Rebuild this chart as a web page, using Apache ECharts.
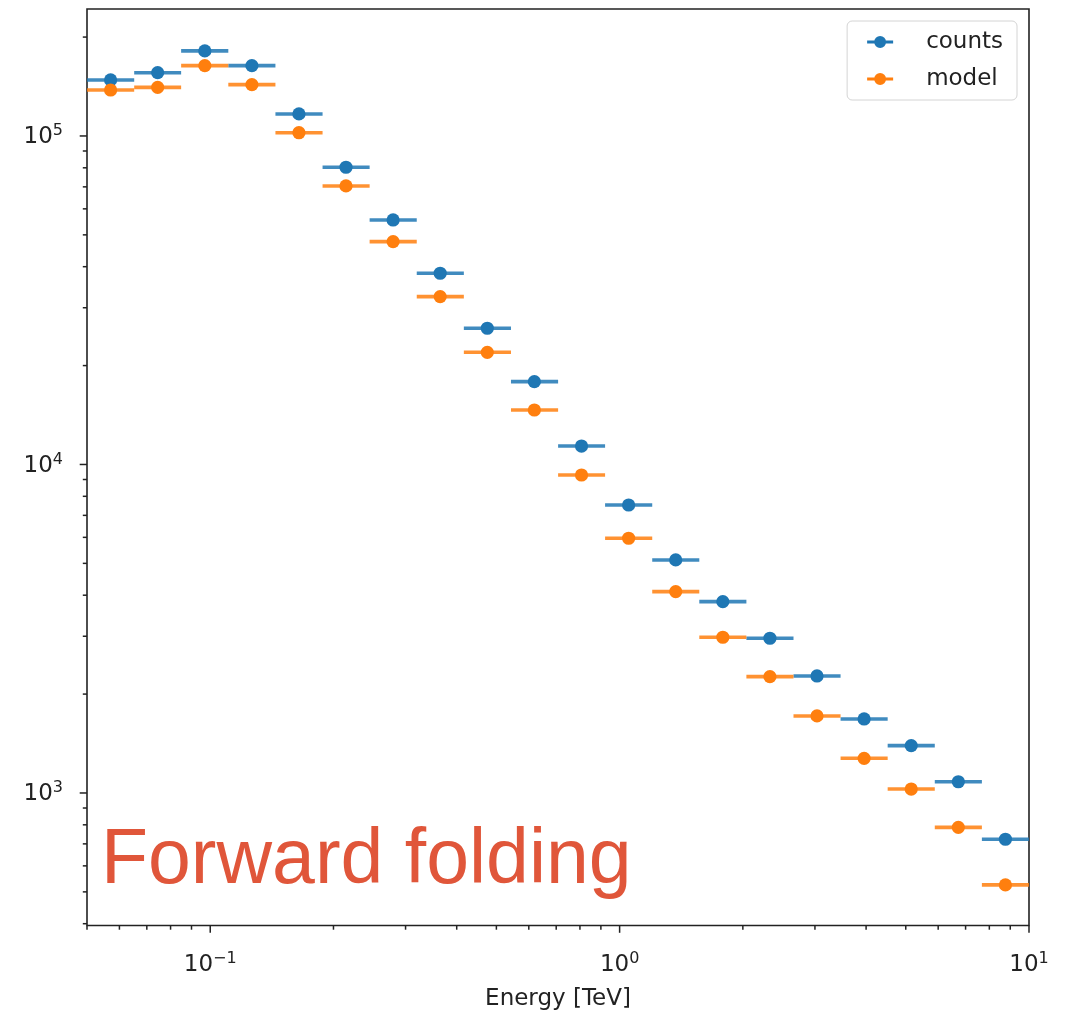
<!DOCTYPE html>
<html><head><meta charset="utf-8">
<script src="https://cdn.jsdelivr.net/npm/echarts@6/dist/echarts.min.js"></script>
<style>html,body{margin:0;padding:0;background:#fff}#c{width:1066px;height:1012px}</style>
</head><body><div id="c"></div>
<script>
// ---- data ----
const ENERGY_CENTER = [0.0571, 0.0744, 0.0970, 0.1264, 0.1647, 0.2146, 0.2797, 0.3645, 0.4751, 0.6191, 0.8071, 1.052, 1.371, 1.787, 2.329, 3.035, 3.956, 5.156, 6.720, 8.758];
const ENERGY_LO = [0.05, 0.0652, 0.0849, 0.1107, 0.1443, 0.1881, 0.2451, 0.3195, 0.4164, 0.5428, 0.7075, 0.9215, 1.2013, 1.5654, 2.0402, 2.6592, 3.4651, 4.5161, 5.8866, 7.6722];
const ENERGY_HI = [0.0652, 0.0849, 0.1107, 0.1443, 0.1881, 0.2451, 0.3195, 0.4164, 0.5428, 0.7075, 0.9215, 1.2013, 1.5654, 2.0402, 2.6592, 3.4651, 4.5161, 5.8866, 7.6722, 10.0];
const COUNTS = [148100, 155800, 181500, 163700, 116700, 80300, 55500, 38200, 25980, 17870, 11380, 7527, 5121, 3823, 2958, 2271, 1680, 1394, 1082, 723];
const MODEL = [138000, 140600, 163700, 143300, 102300, 70450, 47700, 32430, 21950, 14650, 9290, 5962, 4102, 2979, 2260, 1716, 1275, 1028, 786, 525];
const SERIES_NAMES = ['counts', 'model'];
const X_RANGE = [0.05, 10];
const Y_RANGE = [395, 243500];
const X_MAJOR_TICKS = [0.1, 1, 10];
const X_MINOR_TICKS = [0.05, 0.06, 0.07, 0.08, 0.09, 0.2, 0.3, 0.4, 0.5, 0.6, 0.7, 0.8, 0.9, 2, 3, 4, 5, 6, 7, 8, 9];
const Y_MAJOR_TICKS = [1000, 10000, 100000];
const Y_MINOR_TICKS = [400, 500, 600, 700, 800, 900, 2000, 3000, 4000, 5000, 6000, 7000, 8000, 9000, 20000, 30000, 40000, 50000, 60000, 70000, 80000, 90000, 200000];
const AXIS_TITLE = 'Energy [TeV]';
const ANNOTATION = 'Forward folding';

// ---- styling ----
const COLORS = ['#1f77b4', '#ff7f0e'];
const INK = '#222';
const FONT = 'DejaVu Sans';
const LEGEND_ICON = 'path://M0,4.6L7.2,4.6L7.2,7.4L0,7.4Z M18.8,4.6L26,4.6L26,7.4L18.8,7.4Z M19,6A6,6 0 1 1 7,6A6,6 0 1 1 19,6Z';

function powLabel(v) {
  const e = Math.log10(v), r = Math.round(e);
  if (Math.abs(e - r) > 1e-6) return '';
  return '{b|10}{s|' + (r < 0 ? '\u2212' + (-r) : r) + '}';
}
const RICH = {
  b: { fontFamily: FONT, fontSize: 23, color: INK, lineHeight: 26, verticalAlign: 'bottom' },
  s: { fontFamily: FONT, fontSize: 16, color: INK, lineHeight: 16, verticalAlign: 'top' }
};

function errSeries(idx, vals) {
  const color = COLORS[idx];
  return {
    type: 'custom', name: SERIES_NAMES[idx], coordinateSystem: 'cartesian2d',
    animation: false, itemStyle: { color: color }, z: 3 + idx,
    encode: { x: 0, y: 1 },
    data: vals.map((v, i) => [ENERGY_CENTER[i], v, ENERGY_LO[i], ENERGY_HI[i]]),
    renderItem: function (params, api) {
      const c = api.coord([api.value(0), api.value(1)]);
      const lo = api.coord([api.value(2), api.value(1)]);
      const hi = api.coord([api.value(3), api.value(1)]);
      return { type: 'group', children: [
        { type: 'line', shape: { x1: lo[0], y1: lo[1], x2: hi[0], y2: hi[1] }, style: { stroke: color, lineWidth: 3.6, opacity: 0.85, lineCap: 'butt' } },
        { type: 'circle', shape: { cx: c[0], cy: c[1], r: 6.6 }, style: { fill: color } }
      ]};
    }
  };
}

function tickSeries(name, vals, major, isX) {
  return {
    type: 'custom', name: name, coordinateSystem: 'cartesian2d', silent: true, animation: false, z: 6,
    data: vals.map(v => isX ? [v, Y_RANGE[0]] : [X_RANGE[0], v]),
    renderItem: function (params, api) {
      const c = api.coord([api.value(0), api.value(1)]);
      const len = major ? 7.3 : 4.2;
      const shape = isX ? { x1: c[0], y1: c[1], x2: c[0], y2: c[1] + len }
                        : { x1: c[0], y1: c[1], x2: c[0] - len, y2: c[1] };
      return { type: 'line', shape: shape, style: { stroke: INK, lineWidth: 1.5 } };
    }
  };
}

const chart = echarts.init(document.getElementById('c'), null, { renderer: 'canvas' });
chart.setOption({
  backgroundColor: '#fff',
  animation: false,
  grid: { left: 87, top: 9, width: 942, height: 916.5, outerBoundsMode: 'none', containLabel: false, show: true, borderColor: INK, borderWidth: 1.6, backgroundColor: 'transparent' },
  xAxis: {
    type: 'log', logBase: 10, min: X_RANGE[0], max: X_RANGE[1],
    axisLine: { show: false }, axisTick: { show: false }, splitLine: { show: false },
    axisLabel: { margin: 25, formatter: powLabel, rich: RICH, showMinLabel: true, showMaxLabel: true },
    name: AXIS_TITLE, nameLocation: 'middle', nameGap: 62,
    nameTextStyle: { fontFamily: FONT, fontSize: 23, color: INK }
  },
  yAxis: {
    type: 'log', logBase: 10, min: Y_RANGE[0], max: Y_RANGE[1],
    axisLine: { show: false }, axisTick: { show: false }, splitLine: { show: false },
    axisLabel: { margin: 24, formatter: powLabel, rich: RICH, showMinLabel: true, showMaxLabel: true }
  },
  legend: {
    data: SERIES_NAMES.map(n => ({ name: n, icon: LEGEND_ICON })),
    orient: 'vertical', right: 49, top: 21,
    padding: [8, 14, 8, 20], itemGap: 11, itemWidth: 26, itemHeight: 12,
    backgroundColor: 'rgba(255,255,255,0.8)', borderColor: '#d4d4d4', borderWidth: 1, borderRadius: 5,
    selectedMode: false,
    textStyle: { fontFamily: FONT, fontSize: 23, color: INK, padding: [0, 0, 0, 28], lineHeight: 26 }
  },
  graphic: [{
    type: 'text', x: 101, y: 862, z: 100,
    style: { text: ANNOTATION, font: '77px "Liberation Sans", Arial, sans-serif', fill: '#e0563a', textVerticalAlign: 'middle', verticalAlign: 'middle' }
  }],
  series: [
    errSeries(0, COUNTS),
    errSeries(1, MODEL),
    tickSeries('xMajor', X_MAJOR_TICKS, true, true),
    tickSeries('xMinor', X_MINOR_TICKS, false, true),
    tickSeries('yMajor', Y_MAJOR_TICKS, true, false),
    tickSeries('yMinor', Y_MINOR_TICKS, false, false)
  ]
});
</script></body></html>
